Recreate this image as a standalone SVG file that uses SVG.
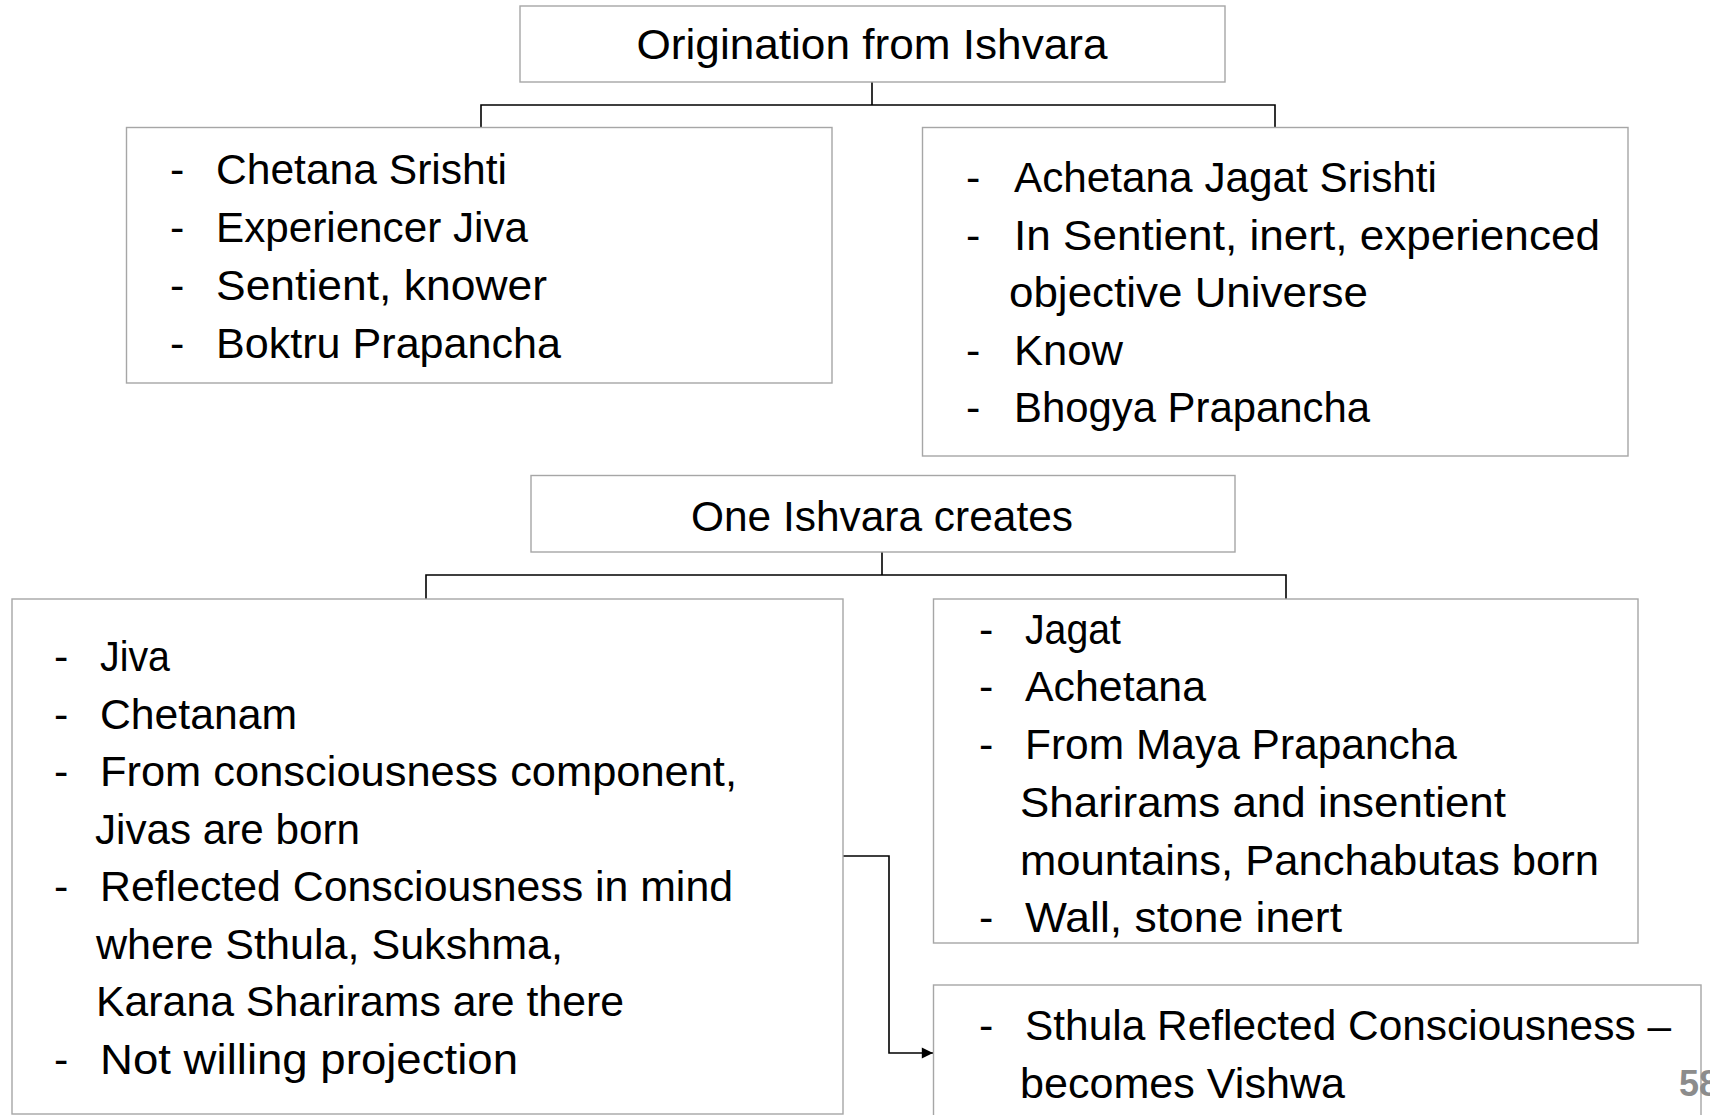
<svg xmlns="http://www.w3.org/2000/svg" width="1710" height="1115" viewBox="0 0 1710 1115">
<style>
.box{fill:#fff;stroke:#a6a6a6;stroke-width:1.4}
.t{font-family:"Liberation Sans",Arial,sans-serif;font-size:43px;fill:#000}
.c{text-anchor:middle}
.con{fill:none;stroke:#000;stroke-width:1.6}
.pg{font-family:"Liberation Sans",Arial,sans-serif;font-size:36px;font-weight:bold;fill:#8c8c8c}
</style>
<defs>
<marker id="ah" viewBox="0 0 10 10" refX="10" refY="5" markerWidth="8" markerHeight="7" markerUnits="strokeWidth" orient="auto">
<path d="M0,0 L10,5 L0,10 z" fill="#000"/>
</marker>
</defs>
<rect width="1710" height="1115" fill="#fff"/>
<g id="connectors">
<path class="con" d="M872,82 V105 M481,127 V105 H1275 V127"/>
<path class="con" d="M882,552 V575 M426,599 V575 H1286 V599"/>
<path class="con" d="M843,856 H889 V1053 H933" marker-end="url(#ah)"/>
</g>
<g id="top">
<rect class="box" x="520" y="6" width="705" height="76"/>
<text class="t c" x="872" y="59" textLength="471" lengthAdjust="spacingAndGlyphs">Origination from Ishvara</text>
</g>
<g id="chetana">
<rect class="box" x="126.5" y="127.5" width="705.5" height="255.5"/>
<text class="t" x="170" y="184">-</text>
<text class="t" x="216" y="184" textLength="291" lengthAdjust="spacingAndGlyphs">Chetana Srishti</text>
<text class="t" x="170" y="242">-</text>
<text class="t" x="216" y="242" textLength="312" lengthAdjust="spacingAndGlyphs">Experiencer Jiva</text>
<text class="t" x="170" y="300">-</text>
<text class="t" x="216" y="300" textLength="331" lengthAdjust="spacingAndGlyphs">Sentient, knower</text>
<text class="t" x="170" y="358">-</text>
<text class="t" x="216" y="358" textLength="345" lengthAdjust="spacingAndGlyphs">Boktru Prapancha</text>
</g>
<g id="achetana">
<rect class="box" x="922.5" y="127.5" width="705.5" height="328.5"/>
<text class="t" x="966" y="192">-</text>
<text class="t" x="1014" y="192" textLength="423" lengthAdjust="spacingAndGlyphs">Achetana Jagat Srishti</text>
<text class="t" x="966" y="250">-</text>
<text class="t" x="1014" y="250" textLength="586" lengthAdjust="spacingAndGlyphs">In Sentient, inert, experienced</text>
<text class="t" x="1009" y="307" textLength="359" lengthAdjust="spacingAndGlyphs">objective Universe</text>
<text class="t" x="966" y="365">-</text>
<text class="t" x="1014" y="365" textLength="109" lengthAdjust="spacingAndGlyphs">Know</text>
<text class="t" x="966" y="422">-</text>
<text class="t" x="1014" y="422" textLength="356" lengthAdjust="spacingAndGlyphs">Bhogya Prapancha</text>
</g>
<g id="one">
<rect class="box" x="531" y="475.5" width="704" height="76.5"/>
<text class="t c" x="882" y="531" textLength="382" lengthAdjust="spacingAndGlyphs">One Ishvara creates</text>
</g>
<g id="jiva">
<rect class="box" x="12" y="599" width="831" height="515"/>
<text class="t" x="54" y="671">-</text>
<text class="t" x="100" y="671" textLength="70" lengthAdjust="spacingAndGlyphs">Jiva</text>
<text class="t" x="54" y="729">-</text>
<text class="t" x="100" y="729" textLength="197" lengthAdjust="spacingAndGlyphs">Chetanam</text>
<text class="t" x="54" y="786">-</text>
<text class="t" x="100" y="786" textLength="637" lengthAdjust="spacingAndGlyphs">From consciousness component,</text>
<text class="t" x="95" y="844" textLength="265" lengthAdjust="spacingAndGlyphs">Jivas are born</text>
<text class="t" x="54" y="901">-</text>
<text class="t" x="100" y="901" textLength="633" lengthAdjust="spacingAndGlyphs">Reflected Consciousness in mind</text>
<text class="t" x="96" y="959" textLength="467" lengthAdjust="spacingAndGlyphs">where Sthula, Sukshma,</text>
<text class="t" x="96" y="1016" textLength="528" lengthAdjust="spacingAndGlyphs">Karana Sharirams are there</text>
<text class="t" x="54" y="1074">-</text>
<text class="t" x="100" y="1074" textLength="418" lengthAdjust="spacingAndGlyphs">Not willing projection</text>
</g>
<g id="jagat">
<rect class="box" x="933.5" y="599" width="704.5" height="344"/>
<text class="t" x="979" y="644">-</text>
<text class="t" x="1025" y="644" textLength="96" lengthAdjust="spacingAndGlyphs">Jagat</text>
<text class="t" x="979" y="701">-</text>
<text class="t" x="1025" y="701" textLength="181" lengthAdjust="spacingAndGlyphs">Achetana</text>
<text class="t" x="979" y="759">-</text>
<text class="t" x="1025" y="759" textLength="432" lengthAdjust="spacingAndGlyphs">From Maya Prapancha</text>
<text class="t" x="1020" y="817" textLength="486" lengthAdjust="spacingAndGlyphs">Sharirams and insentient</text>
<text class="t" x="1020" y="875" textLength="579" lengthAdjust="spacingAndGlyphs">mountains, Panchabutas born</text>
<text class="t" x="979" y="932">-</text>
<text class="t" x="1025" y="932" textLength="317" lengthAdjust="spacingAndGlyphs">Wall, stone inert</text>
</g>
<g id="vishwa">
<rect class="box" x="933.5" y="985" width="767.5" height="140"/>
<text class="t" x="979" y="1040">-</text>
<text class="t" x="1025" y="1040" textLength="646" lengthAdjust="spacingAndGlyphs">Sthula Reflected Consciousness –</text>
<text class="t" x="1020" y="1098" textLength="325" lengthAdjust="spacingAndGlyphs">becomes Vishwa</text>
</g>
<text class="pg" x="1679" y="1096">58</text>
</svg>
